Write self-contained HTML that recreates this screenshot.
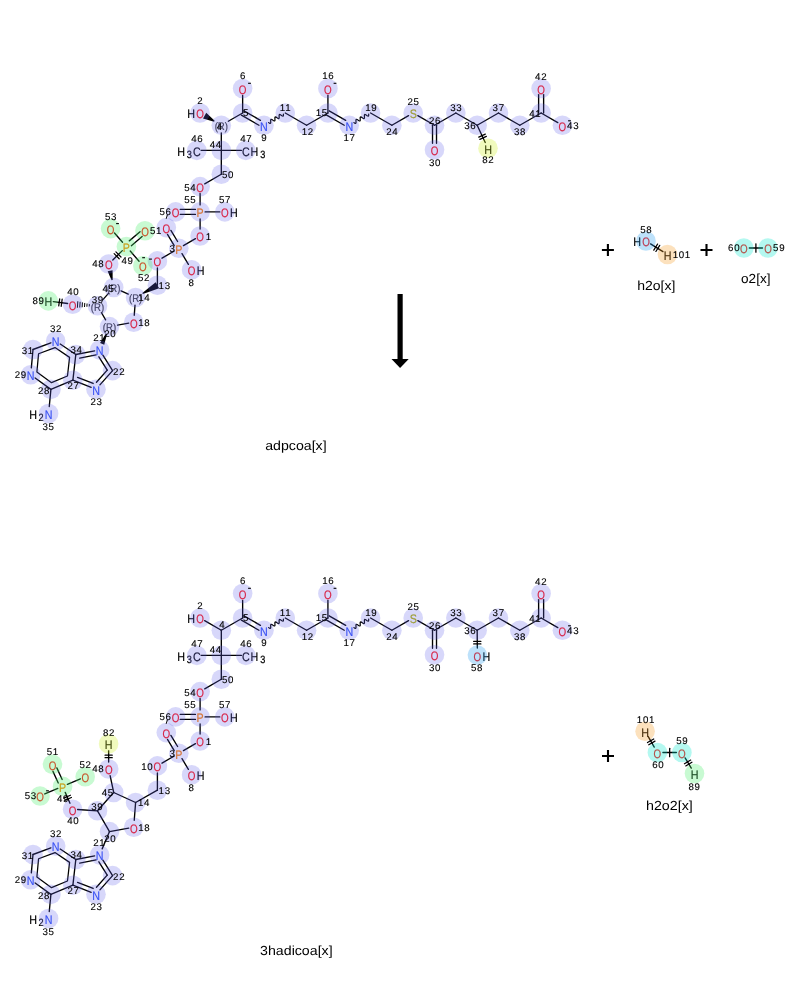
<!DOCTYPE html>
<html><head><meta charset="utf-8"><style>html,body{margin:0;padding:0;background:#fff;width:800px;height:1000px;overflow:hidden}svg{display:block}</style></head>
<body><svg style="will-change:transform" text-rendering="geometricPrecision" width="800" height="1000" viewBox="0 0 800 1000">
<rect width="800" height="1000" fill="#fff"/>
<g stroke="#000" stroke-linecap="round"><polygon points="214.65,120.73 214.05,121.77 203.01,118.48 206.24,112.84" stroke="none" fill="#000"/><line x1="228.29" y1="121.25" x2="242.64" y2="113" stroke-width="1.35"/><line x1="242.64" y1="113" x2="242.64" y2="95.5" stroke-width="1.35"/><line x1="243.89" y1="110.83" x2="260.41" y2="120.33" stroke-width="1.35"/><line x1="241.39" y1="115.17" x2="258.96" y2="125.26" stroke-width="1.35"/><polyline points="268.59,122.59 269.25,123.03 269.83,123.34 270.29,123.42 270.59,123.22 270.73,122.75 270.74,122.06 270.69,121.26 270.65,120.48 270.7,119.85 270.88,119.45 271.22,119.33 271.72,119.49 272.33,119.85 273,120.3 273.65,120.71 274.2,120.96 274.62,120.97 274.87,120.69 274.96,120.14 274.95,119.41 274.9,118.6 274.88,117.85 274.96,117.28 275.18,116.96 275.57,116.92 276.11,117.15 276.75,117.54 277.42,118 278.04,118.37 278.56,118.56 278.93,118.49 279.13,118.13 279.19,117.52 279.16,116.76 279.11,115.95 279.11,115.24 279.23,114.73 279.5,114.49 279.94,114.54 280.51,114.82 281.16,115.24 281.83,115.69 282.43,116.02 282.91,116.14 283.23,115.99 283.39,115.55 283.42,114.89 283.37,114.1" fill="none" stroke-width="1.2"/><line x1="285.28" y1="113" x2="306.6" y2="125.25" stroke-width="1.35"/><line x1="306.6" y1="125.25" x2="327.92" y2="113" stroke-width="1.35"/><line x1="327.92" y1="113" x2="327.92" y2="95.5" stroke-width="1.35"/><line x1="329.17" y1="110.83" x2="345.69" y2="120.33" stroke-width="1.35"/><line x1="326.67" y1="115.17" x2="344.24" y2="125.26" stroke-width="1.35"/><polyline points="353.87,122.59 354.53,123.03 355.11,123.34 355.57,123.42 355.87,123.22 356.01,122.75 356.02,122.06 355.97,121.26 355.93,120.48 355.98,119.85 356.16,119.45 356.5,119.33 357,119.49 357.61,119.85 358.28,120.3 358.93,120.71 359.48,120.96 359.9,120.97 360.15,120.69 360.24,120.14 360.23,119.41 360.18,118.6 360.16,117.85 360.24,117.28 360.46,116.96 360.85,116.92 361.39,117.15 362.03,117.54 362.7,118 363.32,118.37 363.84,118.56 364.21,118.49 364.41,118.13 364.47,117.52 364.44,116.76 364.39,115.95 364.39,115.24 364.51,114.73 364.78,114.49 365.22,114.54 365.79,114.82 366.44,115.24 367.11,115.69 367.71,116.02 368.19,116.14 368.51,115.99 368.67,115.55 368.7,114.89 368.65,114.1" fill="none" stroke-width="1.2"/><line x1="370.56" y1="113" x2="391.88" y2="125.25" stroke-width="1.35"/><line x1="391.88" y1="125.25" x2="408.57" y2="115.66" stroke-width="1.35"/><line x1="417.83" y1="115.66" x2="434.52" y2="125.25" stroke-width="1.35"/><line x1="436.52" y1="125.25" x2="436.52" y2="143.33" stroke-width="1.35"/><line x1="432.52" y1="125.25" x2="432.52" y2="143.33" stroke-width="1.35"/><line x1="434.52" y1="125.25" x2="455.84" y2="113" stroke-width="1.35"/><line x1="455.84" y1="113" x2="477.16" y2="125.25" stroke-width="1.35"/><line x1="477.16" y1="125.25" x2="498.48" y2="113" stroke-width="1.35"/><line x1="498.48" y1="113" x2="519.8" y2="125.25" stroke-width="1.35"/><line x1="519.8" y1="125.25" x2="541.12" y2="113" stroke-width="1.35"/><line x1="538.62" y1="113" x2="538.62" y2="94.56" stroke-width="1.35"/><line x1="543.62" y1="113" x2="543.62" y2="94.56" stroke-width="1.35"/><line x1="541.12" y1="113" x2="557.81" y2="122.59" stroke-width="1.35"/><line x1="221.32" y1="132.85" x2="221.32" y2="150.4" stroke-width="1.35"/><line x1="221.32" y1="150.4" x2="201.2" y2="150.4" stroke-width="1.35"/><line x1="221.32" y1="150.4" x2="241.4" y2="150.4" stroke-width="1.35"/><line x1="221.32" y1="150.4" x2="221.32" y2="174.25" stroke-width="1.35"/><line x1="221.32" y1="174.25" x2="204.72" y2="183.91" stroke-width="1.35"/><line x1="200.1" y1="193.6" x2="200.1" y2="204.9" stroke-width="1.35"/><line x1="195.43" y1="214.4" x2="180.27" y2="214.4" stroke-width="1.35"/><line x1="195.43" y1="209.4" x2="180.27" y2="209.4" stroke-width="1.35"/><line x1="205.1" y1="211.9" x2="219.8" y2="211.9" stroke-width="1.35"/><line x1="200.1" y1="218.9" x2="200.1" y2="229" stroke-width="1.35"/><line x1="195.48" y1="238.67" x2="183.42" y2="245.63" stroke-width="1.35"/><line x1="174.21" y1="245.53" x2="167.49" y2="234.4" stroke-width="1.35"/><line x1="177.61" y1="241.5" x2="170.89" y2="230.37" stroke-width="1.35"/><line x1="182.01" y1="253.67" x2="188.39" y2="264.33" stroke-width="1.35"/><line x1="174.19" y1="251.01" x2="162.01" y2="258.19" stroke-width="1.35"/><line x1="157.4" y1="267.9" x2="157.4" y2="285.2" stroke-width="1.35"/><polygon points="142.9,294.07 142.31,293.03 155.68,282.15 159.12,288.25" stroke="none" fill="#000"/><polygon points="112.7,279.92 111.53,280.17 107.68,271.23 112.57,270.19" stroke="none" fill="#000"/><line x1="89.27" y1="306.07" x2="89.37" y2="304.48" stroke-width="1"/><line x1="86.9" y1="306.34" x2="87.05" y2="303.91" stroke-width="1"/><line x1="84.52" y1="306.61" x2="84.73" y2="303.34" stroke-width="1"/><line x1="82.15" y1="306.88" x2="82.42" y2="302.77" stroke-width="1"/><line x1="79.78" y1="307.15" x2="80.1" y2="302.2" stroke-width="1"/><line x1="77.41" y1="307.41" x2="77.78" y2="301.63" stroke-width="1"/><polygon points="105.94,333.44 107.05,333.91 104.23,344.76 100.09,343" stroke="none" fill="#000"/><line x1="128.24" y1="294.14" x2="121.06" y2="290.86" stroke-width="1.35"/><line x1="108.5" y1="293.38" x2="102.7" y2="299.92" stroke-width="1.35"/><line x1="101.37" y1="312.5" x2="105.63" y2="319.9" stroke-width="1.35"/><line x1="117.55" y1="325.14" x2="128.74" y2="323.1" stroke-width="1.35"/><line x1="134.24" y1="315.24" x2="135.02" y2="305.08" stroke-width="1.35"/><line x1="50.87" y1="342.81" x2="33" y2="349.5" stroke-width="1.35"/><line x1="33" y1="349.5" x2="31.33" y2="367.86" stroke-width="1.35"/><line x1="35.14" y1="378.01" x2="50.9" y2="389.4" stroke-width="1.35"/><line x1="50.9" y1="389.4" x2="72.9" y2="380.2" stroke-width="1.35"/><line x1="72.9" y1="380.2" x2="75.8" y2="354.5" stroke-width="1.35"/><line x1="75.8" y1="354.5" x2="60.21" y2="344.03" stroke-width="1.35"/><line x1="75.8" y1="354.5" x2="94.65" y2="350.86" stroke-width="1.35"/><line x1="102.9" y1="355.16" x2="112.6" y2="370.6" stroke-width="1.35"/><line x1="112.6" y1="370.6" x2="99.9" y2="384.83" stroke-width="1.35"/><line x1="91.18" y1="387.32" x2="72.9" y2="380.2" stroke-width="1.35"/><polygon points="55,347.57 38.55,353.74 36.88,372.08 51.52,382.66 67.47,375.99 69.58,357.36" fill="none" stroke-width="1.25" stroke-linejoin="round"/><line x1="79.72" y1="358.12" x2="96.14" y2="354.95" stroke-width="1.35"/><line x1="98.87" y1="356.83" x2="107.24" y2="370.15" stroke-width="1.35"/><line x1="107.24" y1="370.15" x2="96.46" y2="382.23" stroke-width="1.35"/><line x1="93.13" y1="383.47" x2="77.54" y2="377.39" stroke-width="1.35"/><line x1="50.9" y1="389.4" x2="49.26" y2="406.56" stroke-width="1.35"/><line x1="53.28" y1="301.58" x2="67.62" y2="303.52" stroke-width="1.35"/><line x1="59.7" y1="298.81" x2="58.73" y2="305.95" stroke-width="1.25"/><line x1="62.17" y1="299.15" x2="61.2" y2="306.29" stroke-width="1.25"/><line x1="122.31" y1="250.62" x2="112.79" y2="259.98" stroke-width="1.35"/><line x1="120.97" y1="256.99" x2="115.92" y2="251.86" stroke-width="1.25"/><line x1="119.18" y1="258.74" x2="114.13" y2="253.61" stroke-width="1.25"/><line x1="129.28" y1="240.88" x2="140.04" y2="231.73" stroke-width="1.35"/><line x1="131.36" y1="245.67" x2="142.12" y2="236.52" stroke-width="1.35"/><line x1="130.25" y1="251.06" x2="139.05" y2="261.24" stroke-width="1.35"/><line x1="122.52" y1="242.18" x2="114.48" y2="233.02" stroke-width="1.35"/><line x1="477.16" y1="125.25" x2="485.25" y2="142.45" stroke-width="1.35"/><line x1="485.31" y1="134.11" x2="478.79" y2="137.18" stroke-width="1.25"/><line x1="486.37" y1="136.37" x2="479.85" y2="139.44" stroke-width="1.25"/><line x1="221.32" y1="630.25" x2="204.63" y2="620.66" stroke-width="1.35"/><line x1="221.32" y1="630.25" x2="242.64" y2="618" stroke-width="1.35"/><line x1="242.64" y1="618" x2="242.64" y2="600.5" stroke-width="1.35"/><line x1="243.89" y1="615.83" x2="260.41" y2="625.33" stroke-width="1.35"/><line x1="241.39" y1="620.17" x2="258.96" y2="630.26" stroke-width="1.35"/><polyline points="268.59,627.59 269.25,628.03 269.83,628.34 270.29,628.42 270.59,628.22 270.73,627.75 270.74,627.06 270.69,626.26 270.65,625.48 270.7,624.85 270.88,624.45 271.22,624.33 271.72,624.49 272.33,624.85 273,625.3 273.65,625.71 274.2,625.96 274.62,625.97 274.87,625.69 274.96,625.14 274.95,624.41 274.9,623.6 274.88,622.85 274.96,622.28 275.18,621.96 275.57,621.92 276.11,622.15 276.75,622.54 277.42,623 278.04,623.37 278.56,623.56 278.93,623.49 279.13,623.13 279.19,622.52 279.16,621.76 279.11,620.95 279.11,620.24 279.23,619.73 279.5,619.49 279.94,619.54 280.51,619.82 281.16,620.24 281.83,620.69 282.43,621.02 282.91,621.14 283.23,620.99 283.39,620.55 283.42,619.89 283.37,619.1" fill="none" stroke-width="1.2"/><line x1="285.28" y1="618" x2="306.6" y2="630.25" stroke-width="1.35"/><line x1="306.6" y1="630.25" x2="327.92" y2="618" stroke-width="1.35"/><line x1="327.92" y1="618" x2="327.92" y2="600.5" stroke-width="1.35"/><line x1="329.17" y1="615.83" x2="345.69" y2="625.33" stroke-width="1.35"/><line x1="326.67" y1="620.17" x2="344.24" y2="630.26" stroke-width="1.35"/><polyline points="353.87,627.59 354.53,628.03 355.11,628.34 355.57,628.42 355.87,628.22 356.01,627.75 356.02,627.06 355.97,626.26 355.93,625.48 355.98,624.85 356.16,624.45 356.5,624.33 357,624.49 357.61,624.85 358.28,625.3 358.93,625.71 359.48,625.96 359.9,625.97 360.15,625.69 360.24,625.14 360.23,624.41 360.18,623.6 360.16,622.85 360.24,622.28 360.46,621.96 360.85,621.92 361.39,622.15 362.03,622.54 362.7,623 363.32,623.37 363.84,623.56 364.21,623.49 364.41,623.13 364.47,622.52 364.44,621.76 364.39,620.95 364.39,620.24 364.51,619.73 364.78,619.49 365.22,619.54 365.79,619.82 366.44,620.24 367.11,620.69 367.71,621.02 368.19,621.14 368.51,620.99 368.67,620.55 368.7,619.89 368.65,619.1" fill="none" stroke-width="1.2"/><line x1="370.56" y1="618" x2="391.88" y2="630.25" stroke-width="1.35"/><line x1="391.88" y1="630.25" x2="408.57" y2="620.66" stroke-width="1.35"/><line x1="417.83" y1="620.66" x2="434.52" y2="630.25" stroke-width="1.35"/><line x1="436.52" y1="630.25" x2="436.52" y2="648.33" stroke-width="1.35"/><line x1="432.52" y1="630.25" x2="432.52" y2="648.33" stroke-width="1.35"/><line x1="434.52" y1="630.25" x2="455.84" y2="618" stroke-width="1.35"/><line x1="455.84" y1="618" x2="477.16" y2="630.25" stroke-width="1.35"/><line x1="477.16" y1="630.25" x2="498.48" y2="618" stroke-width="1.35"/><line x1="498.48" y1="618" x2="519.8" y2="630.25" stroke-width="1.35"/><line x1="519.8" y1="630.25" x2="541.12" y2="618" stroke-width="1.35"/><line x1="538.62" y1="618" x2="538.62" y2="599.56" stroke-width="1.35"/><line x1="543.62" y1="618" x2="543.62" y2="599.56" stroke-width="1.35"/><line x1="541.12" y1="618" x2="557.81" y2="627.59" stroke-width="1.35"/><line x1="221.32" y1="630.25" x2="221.32" y2="655.4" stroke-width="1.35"/><line x1="221.32" y1="655.4" x2="201.2" y2="655.4" stroke-width="1.35"/><line x1="221.32" y1="655.4" x2="241.4" y2="655.4" stroke-width="1.35"/><line x1="221.32" y1="655.4" x2="221.32" y2="679.25" stroke-width="1.35"/><line x1="221.32" y1="679.25" x2="204.72" y2="688.91" stroke-width="1.35"/><line x1="200.1" y1="698.6" x2="200.1" y2="709.9" stroke-width="1.35"/><line x1="195.43" y1="719.4" x2="180.27" y2="719.4" stroke-width="1.35"/><line x1="195.43" y1="714.4" x2="180.27" y2="714.4" stroke-width="1.35"/><line x1="205.1" y1="716.9" x2="219.8" y2="716.9" stroke-width="1.35"/><line x1="200.1" y1="723.9" x2="200.1" y2="734" stroke-width="1.35"/><line x1="195.48" y1="743.67" x2="183.42" y2="750.63" stroke-width="1.35"/><line x1="174.21" y1="750.53" x2="167.49" y2="739.4" stroke-width="1.35"/><line x1="177.61" y1="746.5" x2="170.89" y2="735.37" stroke-width="1.35"/><line x1="182.01" y1="758.67" x2="188.39" y2="769.33" stroke-width="1.35"/><line x1="174.19" y1="756.01" x2="162.01" y2="763.19" stroke-width="1.35"/><line x1="157.4" y1="772.9" x2="157.4" y2="790.2" stroke-width="1.35"/><line x1="135.6" y1="802.5" x2="157.4" y2="790.2" stroke-width="1.35"/><line x1="113.7" y1="792.5" x2="110.13" y2="775.71" stroke-width="1.35"/><line x1="97.5" y1="810.8" x2="77.59" y2="809.52" stroke-width="1.35"/><line x1="109.5" y1="831.6" x2="102.16" y2="848.88" stroke-width="1.35"/><line x1="135.6" y1="802.5" x2="113.7" y2="792.5" stroke-width="1.35"/><line x1="113.7" y1="792.5" x2="97.5" y2="810.8" stroke-width="1.35"/><line x1="97.5" y1="810.8" x2="109.5" y2="831.6" stroke-width="1.35"/><line x1="109.5" y1="831.6" x2="128.74" y2="828.1" stroke-width="1.35"/><line x1="134.24" y1="820.24" x2="135.6" y2="802.5" stroke-width="1.35"/><line x1="50.87" y1="847.81" x2="33" y2="854.5" stroke-width="1.35"/><line x1="33" y1="854.5" x2="31.33" y2="872.86" stroke-width="1.35"/><line x1="35.14" y1="883.01" x2="50.9" y2="894.4" stroke-width="1.35"/><line x1="50.9" y1="894.4" x2="72.9" y2="885.2" stroke-width="1.35"/><line x1="72.9" y1="885.2" x2="75.8" y2="859.5" stroke-width="1.35"/><line x1="75.8" y1="859.5" x2="60.21" y2="849.03" stroke-width="1.35"/><line x1="75.8" y1="859.5" x2="94.65" y2="855.86" stroke-width="1.35"/><line x1="102.9" y1="860.16" x2="112.6" y2="875.6" stroke-width="1.35"/><line x1="112.6" y1="875.6" x2="99.9" y2="889.83" stroke-width="1.35"/><line x1="91.18" y1="892.32" x2="72.9" y2="885.2" stroke-width="1.35"/><polygon points="55,852.57 38.55,858.74 36.88,877.08 51.52,887.66 67.47,880.99 69.58,862.36" fill="none" stroke-width="1.25" stroke-linejoin="round"/><line x1="79.72" y1="863.12" x2="96.14" y2="859.95" stroke-width="1.35"/><line x1="98.87" y1="861.83" x2="107.24" y2="875.15" stroke-width="1.35"/><line x1="107.24" y1="875.15" x2="96.46" y2="887.23" stroke-width="1.35"/><line x1="93.13" y1="888.47" x2="77.54" y2="882.39" stroke-width="1.35"/><line x1="50.9" y1="894.4" x2="49.26" y2="911.56" stroke-width="1.35"/><line x1="108.63" y1="750.8" x2="108.67" y2="762" stroke-width="1.35"/><line x1="112.25" y1="755.14" x2="105.05" y2="755.16" stroke-width="1.25"/><line x1="112.25" y1="757.64" x2="105.05" y2="757.66" stroke-width="1.25"/><line x1="65.22" y1="792.37" x2="69.98" y2="803.23" stroke-width="1.35"/><line x1="70.39" y1="795.21" x2="63.8" y2="798.1" stroke-width="1.25"/><line x1="71.4" y1="797.5" x2="64.81" y2="800.39" stroke-width="1.25"/><line x1="58.26" y1="782.93" x2="52.95" y2="771.37" stroke-width="1.35"/><line x1="62.15" y1="779.43" x2="56.84" y2="767.87" stroke-width="1.35"/><line x1="67.38" y1="784.37" x2="80.42" y2="778.83" stroke-width="1.35"/><line x1="57.82" y1="788.43" x2="44.78" y2="793.97" stroke-width="1.35"/><line x1="477.16" y1="630.25" x2="477.33" y2="648.1" stroke-width="1.35"/><line x1="480.87" y1="641.39" x2="473.67" y2="641.46" stroke-width="1.25"/><line x1="480.89" y1="643.89" x2="473.69" y2="643.96" stroke-width="1.25"/><line x1="650.56" y1="243.86" x2="662.94" y2="251.64" stroke-width="1.35"/><line x1="657.61" y1="244.04" x2="653.78" y2="250.13" stroke-width="1.25"/><line x1="659.72" y1="245.37" x2="655.89" y2="251.46" stroke-width="1.25"/><line x1="749.3" y1="248" x2="762.5" y2="248" stroke-width="1.35"/><line x1="755.9" y1="243.8" x2="755.9" y2="252.2" stroke-width="1.3"/><line x1="648.24" y1="736.64" x2="654.26" y2="747.06" stroke-width="1.35"/><line x1="653.74" y1="738.97" x2="647.51" y2="742.57" stroke-width="1.25"/><line x1="654.99" y1="741.13" x2="648.76" y2="744.73" stroke-width="1.25"/><line x1="662.9" y1="752.5" x2="676.4" y2="752.5" stroke-width="1.35"/><line x1="669.65" y1="748.3" x2="669.65" y2="756.7" stroke-width="1.3"/><line x1="685.12" y1="757.86" x2="691.28" y2="768.14" stroke-width="1.35"/><line x1="690.64" y1="760.08" x2="684.47" y2="763.78" stroke-width="1.25"/><line x1="691.93" y1="762.22" x2="685.76" y2="765.92" stroke-width="1.25"/></g>
<g font-family='"Liberation Sans", sans-serif' stroke-width="0.2"><text transform="translate(200 118.43) scale(0.8 1)" font-size="12.3" fill="#ff0d0d" stroke="#ff0d0d" text-anchor="middle">O</text><text transform="translate(191.2 118.43) scale(0.87 1)" font-size="12.3" fill="#000" stroke="#000" text-anchor="middle">H</text><text transform="translate(221.32 130.03) scale(0.87 1)" font-size="11" fill="#3a3a3a" stroke="#3a3a3a" text-anchor="middle">(R)</text><text transform="translate(263.96 130.68) scale(0.87 1)" font-size="12.3" fill="#3050f8" stroke="#3050f8" text-anchor="middle">N</text><text transform="translate(349.24 130.68) scale(0.87 1)" font-size="12.3" fill="#3050f8" stroke="#3050f8" text-anchor="middle">N</text><text transform="translate(413.2 118.43) scale(0.87 1)" font-size="12.3" fill="#b4b400" stroke="#b4b400" text-anchor="middle">S</text><text transform="translate(562.44 130.68) scale(0.8 1)" font-size="12.3" fill="#ff0d0d" stroke="#ff0d0d" text-anchor="middle">O</text><text transform="translate(242.64 93.93) scale(0.8 1)" font-size="12.3" fill="#ff0d0d" stroke="#ff0d0d" text-anchor="middle">O</text><text transform="translate(327.92 93.93) scale(0.8 1)" font-size="12.3" fill="#ff0d0d" stroke="#ff0d0d" text-anchor="middle">O</text><text transform="translate(434.52 155.18) scale(0.8 1)" font-size="12.3" fill="#ff0d0d" stroke="#ff0d0d" text-anchor="middle">O</text><text transform="translate(541.12 93.93) scale(0.8 1)" font-size="12.3" fill="#ff0d0d" stroke="#ff0d0d" text-anchor="middle">O</text><text transform="translate(196.8 155.83) scale(0.87 1)" font-size="12.3" fill="#000" stroke="#000" text-anchor="middle">C</text><text transform="translate(189.2 157.73) scale(0.87 1)" font-size="10.5" fill="#000" stroke="#000" text-anchor="middle">3</text><text transform="translate(181.2 155.83) scale(0.87 1)" font-size="12.3" fill="#000" stroke="#000" text-anchor="middle">H</text><text transform="translate(245.8 155.83) scale(0.87 1)" font-size="12.3" fill="#000" stroke="#000" text-anchor="middle">C</text><text transform="translate(254.4 155.83) scale(0.87 1)" font-size="12.3" fill="#000" stroke="#000" text-anchor="middle">H</text><text transform="translate(262.7 157.73) scale(0.87 1)" font-size="10.5" fill="#000" stroke="#000" text-anchor="middle">3</text><text transform="translate(200.1 192.03) scale(0.8 1)" font-size="12.3" fill="#ff0d0d" stroke="#ff0d0d" text-anchor="middle">O</text><text transform="translate(200.1 217.33) scale(0.87 1)" font-size="12.3" fill="#ff8000" stroke="#ff8000" text-anchor="middle">P</text><text transform="translate(175.6 217.33) scale(0.8 1)" font-size="12.3" fill="#ff0d0d" stroke="#ff0d0d" text-anchor="middle">O</text><text transform="translate(224.8 217.33) scale(0.8 1)" font-size="12.3" fill="#ff0d0d" stroke="#ff0d0d" text-anchor="middle">O</text><text transform="translate(233.8 217.33) scale(0.87 1)" font-size="12.3" fill="#000" stroke="#000" text-anchor="middle">H</text><text transform="translate(200.1 241.43) scale(0.8 1)" font-size="12.3" fill="#ff0d0d" stroke="#ff0d0d" text-anchor="middle">O</text><text transform="translate(178.8 253.73) scale(0.87 1)" font-size="12.3" fill="#ff8000" stroke="#ff8000" text-anchor="middle">P</text><text transform="translate(166.3 233.03) scale(0.8 1)" font-size="12.3" fill="#ff0d0d" stroke="#ff0d0d" text-anchor="middle">O</text><text transform="translate(191.6 275.13) scale(0.8 1)" font-size="12.3" fill="#ff0d0d" stroke="#ff0d0d" text-anchor="middle">O</text><text transform="translate(200.6 275.13) scale(0.87 1)" font-size="12.3" fill="#000" stroke="#000" text-anchor="middle">H</text><text transform="translate(157.4 266.33) scale(0.8 1)" font-size="12.3" fill="#ff0d0d" stroke="#ff0d0d" text-anchor="middle">O</text><text transform="translate(135.6 302.28) scale(0.87 1)" font-size="11" fill="#3a3a3a" stroke="#3a3a3a" text-anchor="middle">(R)</text><text transform="translate(133.7 327.63) scale(0.8 1)" font-size="12.3" fill="#ff0d0d" stroke="#ff0d0d" text-anchor="middle">O</text><text transform="translate(109.5 331.38) scale(0.87 1)" font-size="11" fill="#3a3a3a" stroke="#3a3a3a" text-anchor="middle">(R)</text><text transform="translate(97.5 310.58) scale(0.87 1)" font-size="11" fill="#3a3a3a" stroke="#3a3a3a" text-anchor="middle">(R)</text><text transform="translate(113.7 292.28) scale(0.87 1)" font-size="11" fill="#3a3a3a" stroke="#3a3a3a" text-anchor="middle">(R)</text><text transform="translate(108.7 269.43) scale(0.8 1)" font-size="12.3" fill="#ff0d0d" stroke="#ff0d0d" text-anchor="middle">O</text><text transform="translate(72.6 309.63) scale(0.8 1)" font-size="12.3" fill="#ff0d0d" stroke="#ff0d0d" text-anchor="middle">O</text><text transform="translate(99.6 355.33) scale(0.87 1)" font-size="12.3" fill="#3050f8" stroke="#3050f8" text-anchor="middle">N</text><text transform="translate(96 394.63) scale(0.87 1)" font-size="12.3" fill="#3050f8" stroke="#3050f8" text-anchor="middle">N</text><text transform="translate(30.7 380.23) scale(0.87 1)" font-size="12.3" fill="#3050f8" stroke="#3050f8" text-anchor="middle">N</text><text transform="translate(55.7 346.43) scale(0.87 1)" font-size="12.3" fill="#3050f8" stroke="#3050f8" text-anchor="middle">N</text><text transform="translate(48.6 418.93) scale(0.87 1)" font-size="12.3" fill="#3050f8" stroke="#3050f8" text-anchor="middle">N</text><text transform="translate(41 420.83) scale(0.87 1)" font-size="10.5" fill="#000" stroke="#000" text-anchor="middle">2</text><text transform="translate(33 418.93) scale(0.87 1)" font-size="12.3" fill="#000" stroke="#000" text-anchor="middle">H</text><text transform="translate(48.3 306.33) scale(0.87 1)" font-size="12.3" fill="#000000" stroke="#000000" text-anchor="middle">H</text><text transform="translate(126.4 252.03) scale(0.87 1)" font-size="12.3" fill="#ff8000" stroke="#ff8000" text-anchor="middle">P</text><text transform="translate(145 236.23) scale(0.8 1)" font-size="12.3" fill="#ff0d0d" stroke="#ff0d0d" text-anchor="middle">O</text><text transform="translate(142.9 271.13) scale(0.8 1)" font-size="12.3" fill="#ff0d0d" stroke="#ff0d0d" text-anchor="middle">O</text><text transform="translate(110.6 234.03) scale(0.8 1)" font-size="12.3" fill="#ff0d0d" stroke="#ff0d0d" text-anchor="middle">O</text><text transform="translate(488 153.73) scale(0.87 1)" font-size="12.3" fill="#000000" stroke="#000000" text-anchor="middle">H</text><text transform="translate(200 623.43) scale(0.8 1)" font-size="12.3" fill="#ff0d0d" stroke="#ff0d0d" text-anchor="middle">O</text><text transform="translate(191.2 623.43) scale(0.87 1)" font-size="12.3" fill="#000" stroke="#000" text-anchor="middle">H</text><text transform="translate(263.96 635.68) scale(0.87 1)" font-size="12.3" fill="#3050f8" stroke="#3050f8" text-anchor="middle">N</text><text transform="translate(349.24 635.68) scale(0.87 1)" font-size="12.3" fill="#3050f8" stroke="#3050f8" text-anchor="middle">N</text><text transform="translate(413.2 623.43) scale(0.87 1)" font-size="12.3" fill="#b4b400" stroke="#b4b400" text-anchor="middle">S</text><text transform="translate(562.44 635.68) scale(0.8 1)" font-size="12.3" fill="#ff0d0d" stroke="#ff0d0d" text-anchor="middle">O</text><text transform="translate(242.64 598.93) scale(0.8 1)" font-size="12.3" fill="#ff0d0d" stroke="#ff0d0d" text-anchor="middle">O</text><text transform="translate(327.92 598.93) scale(0.8 1)" font-size="12.3" fill="#ff0d0d" stroke="#ff0d0d" text-anchor="middle">O</text><text transform="translate(434.52 660.18) scale(0.8 1)" font-size="12.3" fill="#ff0d0d" stroke="#ff0d0d" text-anchor="middle">O</text><text transform="translate(541.12 598.93) scale(0.8 1)" font-size="12.3" fill="#ff0d0d" stroke="#ff0d0d" text-anchor="middle">O</text><text transform="translate(196.8 660.83) scale(0.87 1)" font-size="12.3" fill="#000" stroke="#000" text-anchor="middle">C</text><text transform="translate(189.2 662.73) scale(0.87 1)" font-size="10.5" fill="#000" stroke="#000" text-anchor="middle">3</text><text transform="translate(181.2 660.83) scale(0.87 1)" font-size="12.3" fill="#000" stroke="#000" text-anchor="middle">H</text><text transform="translate(245.8 660.83) scale(0.87 1)" font-size="12.3" fill="#000" stroke="#000" text-anchor="middle">C</text><text transform="translate(254.4 660.83) scale(0.87 1)" font-size="12.3" fill="#000" stroke="#000" text-anchor="middle">H</text><text transform="translate(262.7 662.73) scale(0.87 1)" font-size="10.5" fill="#000" stroke="#000" text-anchor="middle">3</text><text transform="translate(200.1 697.03) scale(0.8 1)" font-size="12.3" fill="#ff0d0d" stroke="#ff0d0d" text-anchor="middle">O</text><text transform="translate(200.1 722.33) scale(0.87 1)" font-size="12.3" fill="#ff8000" stroke="#ff8000" text-anchor="middle">P</text><text transform="translate(175.6 722.33) scale(0.8 1)" font-size="12.3" fill="#ff0d0d" stroke="#ff0d0d" text-anchor="middle">O</text><text transform="translate(224.8 722.33) scale(0.8 1)" font-size="12.3" fill="#ff0d0d" stroke="#ff0d0d" text-anchor="middle">O</text><text transform="translate(233.8 722.33) scale(0.87 1)" font-size="12.3" fill="#000" stroke="#000" text-anchor="middle">H</text><text transform="translate(200.1 746.43) scale(0.8 1)" font-size="12.3" fill="#ff0d0d" stroke="#ff0d0d" text-anchor="middle">O</text><text transform="translate(178.8 758.73) scale(0.87 1)" font-size="12.3" fill="#ff8000" stroke="#ff8000" text-anchor="middle">P</text><text transform="translate(166.3 738.03) scale(0.8 1)" font-size="12.3" fill="#ff0d0d" stroke="#ff0d0d" text-anchor="middle">O</text><text transform="translate(191.6 780.13) scale(0.8 1)" font-size="12.3" fill="#ff0d0d" stroke="#ff0d0d" text-anchor="middle">O</text><text transform="translate(200.6 780.13) scale(0.87 1)" font-size="12.3" fill="#000" stroke="#000" text-anchor="middle">H</text><text transform="translate(157.4 771.33) scale(0.8 1)" font-size="12.3" fill="#ff0d0d" stroke="#ff0d0d" text-anchor="middle">O</text><text transform="translate(133.7 832.63) scale(0.8 1)" font-size="12.3" fill="#ff0d0d" stroke="#ff0d0d" text-anchor="middle">O</text><text transform="translate(108.7 774.43) scale(0.8 1)" font-size="12.3" fill="#ff0d0d" stroke="#ff0d0d" text-anchor="middle">O</text><text transform="translate(72.6 814.63) scale(0.8 1)" font-size="12.3" fill="#ff0d0d" stroke="#ff0d0d" text-anchor="middle">O</text><text transform="translate(99.6 860.33) scale(0.87 1)" font-size="12.3" fill="#3050f8" stroke="#3050f8" text-anchor="middle">N</text><text transform="translate(96 899.63) scale(0.87 1)" font-size="12.3" fill="#3050f8" stroke="#3050f8" text-anchor="middle">N</text><text transform="translate(30.7 885.23) scale(0.87 1)" font-size="12.3" fill="#3050f8" stroke="#3050f8" text-anchor="middle">N</text><text transform="translate(55.7 851.43) scale(0.87 1)" font-size="12.3" fill="#3050f8" stroke="#3050f8" text-anchor="middle">N</text><text transform="translate(48.6 923.93) scale(0.87 1)" font-size="12.3" fill="#3050f8" stroke="#3050f8" text-anchor="middle">N</text><text transform="translate(41 925.83) scale(0.87 1)" font-size="10.5" fill="#000" stroke="#000" text-anchor="middle">2</text><text transform="translate(33 923.93) scale(0.87 1)" font-size="12.3" fill="#000" stroke="#000" text-anchor="middle">H</text><text transform="translate(108.6 749.23) scale(0.87 1)" font-size="12.3" fill="#000000" stroke="#000000" text-anchor="middle">H</text><text transform="translate(62.6 791.83) scale(0.87 1)" font-size="12.3" fill="#ff8000" stroke="#ff8000" text-anchor="middle">P</text><text transform="translate(52.5 769.83) scale(0.8 1)" font-size="12.3" fill="#ff0d0d" stroke="#ff0d0d" text-anchor="middle">O</text><text transform="translate(85.2 782.23) scale(0.8 1)" font-size="12.3" fill="#ff0d0d" stroke="#ff0d0d" text-anchor="middle">O</text><text transform="translate(40 801.43) scale(0.8 1)" font-size="12.3" fill="#ff0d0d" stroke="#ff0d0d" text-anchor="middle">O</text><text transform="translate(477.4 660.53) scale(0.8 1)" font-size="12.3" fill="#ff0d0d" stroke="#ff0d0d" text-anchor="middle">O</text><text transform="translate(486.4 660.53) scale(0.87 1)" font-size="12.3" fill="#000" stroke="#000" text-anchor="middle">H</text><text transform="translate(646 246.43) scale(0.8 1)" font-size="12.3" fill="#ff0d0d" stroke="#ff0d0d" text-anchor="middle">O</text><text transform="translate(637.2 246.43) scale(0.87 1)" font-size="12.3" fill="#000" stroke="#000" text-anchor="middle">H</text><text transform="translate(667.5 259.93) scale(0.87 1)" font-size="12.3" fill="#000000" stroke="#000000" text-anchor="middle">H</text><text transform="translate(743.8 253.43) scale(0.8 1)" font-size="12.3" fill="#ff0d0d" stroke="#ff0d0d" text-anchor="middle">O</text><text transform="translate(768 253.43) scale(0.8 1)" font-size="12.3" fill="#ff0d0d" stroke="#ff0d0d" text-anchor="middle">O</text><text transform="translate(645.1 736.63) scale(0.87 1)" font-size="12.3" fill="#000000" stroke="#000000" text-anchor="middle">H</text><text transform="translate(657.4 757.93) scale(0.8 1)" font-size="12.3" fill="#ff0d0d" stroke="#ff0d0d" text-anchor="middle">O</text><text transform="translate(681.9 757.93) scale(0.8 1)" font-size="12.3" fill="#ff0d0d" stroke="#ff0d0d" text-anchor="middle">O</text><text transform="translate(694.5 778.93) scale(0.87 1)" font-size="12.3" fill="#000000" stroke="#000000" text-anchor="middle">H</text></g>
<g><circle cx="200" cy="113" r="9.8" fill="rgb(95,95,235)" fill-opacity="0.25"/><circle cx="221.32" cy="125.25" r="9.8" fill="rgb(95,95,235)" fill-opacity="0.25"/><circle cx="242.64" cy="113" r="9.8" fill="rgb(95,95,235)" fill-opacity="0.25"/><circle cx="242.64" cy="88.5" r="9.8" fill="rgb(95,95,235)" fill-opacity="0.25"/><circle cx="263.96" cy="125.25" r="9.8" fill="rgb(95,95,235)" fill-opacity="0.25"/><circle cx="285.28" cy="113" r="9.8" fill="rgb(95,95,235)" fill-opacity="0.25"/><circle cx="306.6" cy="125.25" r="9.8" fill="rgb(95,95,235)" fill-opacity="0.25"/><circle cx="327.92" cy="113" r="9.8" fill="rgb(95,95,235)" fill-opacity="0.25"/><circle cx="327.92" cy="88.5" r="9.8" fill="rgb(95,95,235)" fill-opacity="0.25"/><circle cx="349.24" cy="125.25" r="9.8" fill="rgb(95,95,235)" fill-opacity="0.25"/><circle cx="370.56" cy="113" r="9.8" fill="rgb(95,95,235)" fill-opacity="0.25"/><circle cx="391.88" cy="125.25" r="9.8" fill="rgb(95,95,235)" fill-opacity="0.25"/><circle cx="413.2" cy="113" r="9.8" fill="rgb(95,95,235)" fill-opacity="0.25"/><circle cx="434.52" cy="125.25" r="9.8" fill="rgb(95,95,235)" fill-opacity="0.25"/><circle cx="434.52" cy="149.75" r="9.8" fill="rgb(95,95,235)" fill-opacity="0.25"/><circle cx="455.84" cy="113" r="9.8" fill="rgb(95,95,235)" fill-opacity="0.25"/><circle cx="477.16" cy="125.25" r="9.8" fill="rgb(95,95,235)" fill-opacity="0.25"/><circle cx="498.48" cy="113" r="9.8" fill="rgb(95,95,235)" fill-opacity="0.25"/><circle cx="519.8" cy="125.25" r="9.8" fill="rgb(95,95,235)" fill-opacity="0.25"/><circle cx="541.12" cy="113" r="9.8" fill="rgb(95,95,235)" fill-opacity="0.25"/><circle cx="541.12" cy="88.5" r="9.8" fill="rgb(95,95,235)" fill-opacity="0.25"/><circle cx="562.44" cy="125.25" r="9.8" fill="rgb(95,95,235)" fill-opacity="0.25"/><circle cx="221.32" cy="150.4" r="9.8" fill="rgb(95,95,235)" fill-opacity="0.25"/><circle cx="196.8" cy="150.4" r="9.8" fill="rgb(95,95,235)" fill-opacity="0.25"/><circle cx="245.8" cy="150.4" r="9.8" fill="rgb(95,95,235)" fill-opacity="0.25"/><circle cx="221.32" cy="174.25" r="9.8" fill="rgb(95,95,235)" fill-opacity="0.25"/><circle cx="200.1" cy="186.6" r="9.8" fill="rgb(95,95,235)" fill-opacity="0.25"/><circle cx="200.1" cy="211.9" r="9.8" fill="rgb(95,95,235)" fill-opacity="0.25"/><circle cx="175.6" cy="211.9" r="9.8" fill="rgb(95,95,235)" fill-opacity="0.25"/><circle cx="224.8" cy="211.9" r="9.8" fill="rgb(95,95,235)" fill-opacity="0.25"/><circle cx="200.1" cy="236" r="9.8" fill="rgb(95,95,235)" fill-opacity="0.25"/><circle cx="178.8" cy="248.3" r="9.8" fill="rgb(95,95,235)" fill-opacity="0.25"/><circle cx="166.3" cy="227.6" r="9.8" fill="rgb(95,95,235)" fill-opacity="0.25"/><circle cx="191.6" cy="269.7" r="9.8" fill="rgb(95,95,235)" fill-opacity="0.25"/><circle cx="157.4" cy="260.9" r="9.8" fill="rgb(95,95,235)" fill-opacity="0.25"/><circle cx="157.4" cy="285.2" r="9.8" fill="rgb(95,95,235)" fill-opacity="0.25"/><circle cx="135.6" cy="297.5" r="9.8" fill="rgb(95,95,235)" fill-opacity="0.25"/><circle cx="133.7" cy="322.2" r="9.8" fill="rgb(95,95,235)" fill-opacity="0.25"/><circle cx="109.5" cy="326.6" r="9.8" fill="rgb(95,95,235)" fill-opacity="0.25"/><circle cx="97.5" cy="305.8" r="9.8" fill="rgb(95,95,235)" fill-opacity="0.25"/><circle cx="113.7" cy="287.5" r="9.8" fill="rgb(95,95,235)" fill-opacity="0.25"/><circle cx="108.7" cy="264" r="9.8" fill="rgb(95,95,235)" fill-opacity="0.25"/><circle cx="72.6" cy="304.2" r="9.8" fill="rgb(95,95,235)" fill-opacity="0.25"/><circle cx="99.6" cy="349.9" r="9.8" fill="rgb(95,95,235)" fill-opacity="0.25"/><circle cx="112.6" cy="370.6" r="9.8" fill="rgb(95,95,235)" fill-opacity="0.25"/><circle cx="96" cy="389.2" r="9.8" fill="rgb(95,95,235)" fill-opacity="0.25"/><circle cx="72.9" cy="380.2" r="9.8" fill="rgb(95,95,235)" fill-opacity="0.25"/><circle cx="50.9" cy="389.4" r="9.8" fill="rgb(95,95,235)" fill-opacity="0.25"/><circle cx="30.7" cy="374.8" r="9.8" fill="rgb(95,95,235)" fill-opacity="0.25"/><circle cx="33" cy="349.5" r="9.8" fill="rgb(95,95,235)" fill-opacity="0.25"/><circle cx="55.7" cy="341" r="9.8" fill="rgb(95,95,235)" fill-opacity="0.25"/><circle cx="75.8" cy="354.5" r="9.8" fill="rgb(95,95,235)" fill-opacity="0.25"/><circle cx="48.6" cy="413.5" r="9.8" fill="rgb(95,95,235)" fill-opacity="0.25"/><circle cx="48.3" cy="300.9" r="9.8" fill="rgb(72,238,105)" fill-opacity="0.3"/><circle cx="126.4" cy="246.6" r="9.8" fill="rgb(72,238,105)" fill-opacity="0.3"/><circle cx="145" cy="230.8" r="9.8" fill="rgb(72,238,105)" fill-opacity="0.3"/><circle cx="142.9" cy="265.7" r="9.8" fill="rgb(72,238,105)" fill-opacity="0.3"/><circle cx="110.6" cy="228.6" r="9.8" fill="rgb(72,238,105)" fill-opacity="0.3"/><circle cx="488" cy="148.3" r="9.8" fill="rgb(205,238,38)" fill-opacity="0.3"/><circle cx="200" cy="618" r="9.8" fill="rgb(95,95,235)" fill-opacity="0.25"/><circle cx="221.32" cy="630.25" r="9.8" fill="rgb(95,95,235)" fill-opacity="0.25"/><circle cx="242.64" cy="618" r="9.8" fill="rgb(95,95,235)" fill-opacity="0.25"/><circle cx="242.64" cy="593.5" r="9.8" fill="rgb(95,95,235)" fill-opacity="0.25"/><circle cx="263.96" cy="630.25" r="9.8" fill="rgb(95,95,235)" fill-opacity="0.25"/><circle cx="285.28" cy="618" r="9.8" fill="rgb(95,95,235)" fill-opacity="0.25"/><circle cx="306.6" cy="630.25" r="9.8" fill="rgb(95,95,235)" fill-opacity="0.25"/><circle cx="327.92" cy="618" r="9.8" fill="rgb(95,95,235)" fill-opacity="0.25"/><circle cx="327.92" cy="593.5" r="9.8" fill="rgb(95,95,235)" fill-opacity="0.25"/><circle cx="349.24" cy="630.25" r="9.8" fill="rgb(95,95,235)" fill-opacity="0.25"/><circle cx="370.56" cy="618" r="9.8" fill="rgb(95,95,235)" fill-opacity="0.25"/><circle cx="391.88" cy="630.25" r="9.8" fill="rgb(95,95,235)" fill-opacity="0.25"/><circle cx="413.2" cy="618" r="9.8" fill="rgb(95,95,235)" fill-opacity="0.25"/><circle cx="434.52" cy="630.25" r="9.8" fill="rgb(95,95,235)" fill-opacity="0.25"/><circle cx="434.52" cy="654.75" r="9.8" fill="rgb(95,95,235)" fill-opacity="0.25"/><circle cx="455.84" cy="618" r="9.8" fill="rgb(95,95,235)" fill-opacity="0.25"/><circle cx="477.16" cy="630.25" r="9.8" fill="rgb(95,95,235)" fill-opacity="0.25"/><circle cx="498.48" cy="618" r="9.8" fill="rgb(95,95,235)" fill-opacity="0.25"/><circle cx="519.8" cy="630.25" r="9.8" fill="rgb(95,95,235)" fill-opacity="0.25"/><circle cx="541.12" cy="618" r="9.8" fill="rgb(95,95,235)" fill-opacity="0.25"/><circle cx="541.12" cy="593.5" r="9.8" fill="rgb(95,95,235)" fill-opacity="0.25"/><circle cx="562.44" cy="630.25" r="9.8" fill="rgb(95,95,235)" fill-opacity="0.25"/><circle cx="221.32" cy="655.4" r="9.8" fill="rgb(95,95,235)" fill-opacity="0.25"/><circle cx="196.8" cy="655.4" r="9.8" fill="rgb(95,95,235)" fill-opacity="0.25"/><circle cx="245.8" cy="655.4" r="9.8" fill="rgb(95,95,235)" fill-opacity="0.25"/><circle cx="221.32" cy="679.25" r="9.8" fill="rgb(95,95,235)" fill-opacity="0.25"/><circle cx="200.1" cy="691.6" r="9.8" fill="rgb(95,95,235)" fill-opacity="0.25"/><circle cx="200.1" cy="716.9" r="9.8" fill="rgb(95,95,235)" fill-opacity="0.25"/><circle cx="175.6" cy="716.9" r="9.8" fill="rgb(95,95,235)" fill-opacity="0.25"/><circle cx="224.8" cy="716.9" r="9.8" fill="rgb(95,95,235)" fill-opacity="0.25"/><circle cx="200.1" cy="741" r="9.8" fill="rgb(95,95,235)" fill-opacity="0.25"/><circle cx="178.8" cy="753.3" r="9.8" fill="rgb(95,95,235)" fill-opacity="0.25"/><circle cx="166.3" cy="732.6" r="9.8" fill="rgb(95,95,235)" fill-opacity="0.25"/><circle cx="191.6" cy="774.7" r="9.8" fill="rgb(95,95,235)" fill-opacity="0.25"/><circle cx="157.4" cy="765.9" r="9.8" fill="rgb(95,95,235)" fill-opacity="0.25"/><circle cx="157.4" cy="790.2" r="9.8" fill="rgb(95,95,235)" fill-opacity="0.25"/><circle cx="135.6" cy="802.5" r="9.8" fill="rgb(95,95,235)" fill-opacity="0.25"/><circle cx="133.7" cy="827.2" r="9.8" fill="rgb(95,95,235)" fill-opacity="0.25"/><circle cx="109.5" cy="831.6" r="9.8" fill="rgb(95,95,235)" fill-opacity="0.25"/><circle cx="97.5" cy="810.8" r="9.8" fill="rgb(95,95,235)" fill-opacity="0.25"/><circle cx="113.7" cy="792.5" r="9.8" fill="rgb(95,95,235)" fill-opacity="0.25"/><circle cx="108.7" cy="769" r="9.8" fill="rgb(95,95,235)" fill-opacity="0.25"/><circle cx="72.6" cy="809.2" r="9.8" fill="rgb(95,95,235)" fill-opacity="0.25"/><circle cx="99.6" cy="854.9" r="9.8" fill="rgb(95,95,235)" fill-opacity="0.25"/><circle cx="112.6" cy="875.6" r="9.8" fill="rgb(95,95,235)" fill-opacity="0.25"/><circle cx="96" cy="894.2" r="9.8" fill="rgb(95,95,235)" fill-opacity="0.25"/><circle cx="72.9" cy="885.2" r="9.8" fill="rgb(95,95,235)" fill-opacity="0.25"/><circle cx="50.9" cy="894.4" r="9.8" fill="rgb(95,95,235)" fill-opacity="0.25"/><circle cx="30.7" cy="879.8" r="9.8" fill="rgb(95,95,235)" fill-opacity="0.25"/><circle cx="33" cy="854.5" r="9.8" fill="rgb(95,95,235)" fill-opacity="0.25"/><circle cx="55.7" cy="846" r="9.8" fill="rgb(95,95,235)" fill-opacity="0.25"/><circle cx="75.8" cy="859.5" r="9.8" fill="rgb(95,95,235)" fill-opacity="0.25"/><circle cx="48.6" cy="918.5" r="9.8" fill="rgb(95,95,235)" fill-opacity="0.25"/><circle cx="108.6" cy="743.8" r="9.8" fill="rgb(205,238,38)" fill-opacity="0.3"/><circle cx="62.6" cy="786.4" r="9.8" fill="rgb(72,238,105)" fill-opacity="0.3"/><circle cx="52.5" cy="764.4" r="9.8" fill="rgb(72,238,105)" fill-opacity="0.3"/><circle cx="85.2" cy="776.8" r="9.8" fill="rgb(72,238,105)" fill-opacity="0.3"/><circle cx="40" cy="796" r="9.8" fill="rgb(72,238,105)" fill-opacity="0.3"/><circle cx="477.4" cy="655.1" r="9.8" fill="rgb(38,155,238)" fill-opacity="0.3"/><circle cx="646" cy="241" r="9.8" fill="rgb(38,155,238)" fill-opacity="0.3"/><circle cx="667.5" cy="254.5" r="9.8" fill="rgb(245,155,38)" fill-opacity="0.3"/><circle cx="743.8" cy="248" r="9.8" fill="rgb(5,232,205)" fill-opacity="0.3"/><circle cx="768" cy="248" r="9.8" fill="rgb(5,232,205)" fill-opacity="0.3"/><circle cx="645.1" cy="731.2" r="9.8" fill="rgb(245,155,38)" fill-opacity="0.3"/><circle cx="657.4" cy="752.5" r="9.8" fill="rgb(5,232,205)" fill-opacity="0.3"/><circle cx="681.9" cy="752.5" r="9.8" fill="rgb(5,232,205)" fill-opacity="0.3"/><circle cx="694.5" cy="773.5" r="9.8" fill="rgb(72,238,105)" fill-opacity="0.3"/></g>
<g font-family='"Liberation Sans", sans-serif' fill="#000" stroke="#000" stroke-width="0.12"><text transform="translate(200.32 104.34) scale(1 1)" font-size="9.7" letter-spacing="0.65" text-anchor="middle">2</text><text transform="translate(242.92 79.34) scale(1 1)" font-size="9.7" letter-spacing="0.65" text-anchor="middle">6</text><line x1="248.1" y1="83.3" x2="250.9" y2="83.3" stroke="#000" stroke-width="1.1"/><text transform="translate(246.12 116.34) scale(1 1)" font-size="9.7" letter-spacing="0.65" text-anchor="middle">5</text><text transform="translate(264.32 140.94) scale(1 1)" font-size="9.7" letter-spacing="0.65" text-anchor="middle">9</text><text transform="translate(285.52 110.84) scale(1 1)" font-size="9.7" letter-spacing="0.65" text-anchor="middle">11</text><text transform="translate(307.82 134.64) scale(1 1)" font-size="9.7" letter-spacing="0.65" text-anchor="middle">12</text><text transform="translate(321.82 116.34) scale(1 1)" font-size="9.7" letter-spacing="0.65" text-anchor="middle">15</text><text transform="translate(328.32 79.34) scale(1 1)" font-size="9.7" letter-spacing="0.65" text-anchor="middle">16</text><line x1="333.6" y1="83.3" x2="336.4" y2="83.3" stroke="#000" stroke-width="1.1"/><text transform="translate(349.42 140.94) scale(1 1)" font-size="9.7" letter-spacing="0.65" text-anchor="middle">17</text><text transform="translate(371.32 111.14) scale(1 1)" font-size="9.7" letter-spacing="0.65" text-anchor="middle">19</text><text transform="translate(392.32 134.84) scale(1 1)" font-size="9.7" letter-spacing="0.65" text-anchor="middle">24</text><text transform="translate(413.42 104.94) scale(1 1)" font-size="9.7" letter-spacing="0.65" text-anchor="middle">25</text><text transform="translate(434.92 123.64) scale(1 1)" font-size="9.7" letter-spacing="0.65" text-anchor="middle">26</text><text transform="translate(434.92 165.74) scale(1 1)" font-size="9.7" letter-spacing="0.65" text-anchor="middle">30</text><text transform="translate(456.32 111.14) scale(1 1)" font-size="9.7" letter-spacing="0.65" text-anchor="middle">33</text><text transform="translate(470.32 129.34) scale(1 1)" font-size="9.7" letter-spacing="0.65" text-anchor="middle">36</text><text transform="translate(498.62 111.14) scale(1 1)" font-size="9.7" letter-spacing="0.65" text-anchor="middle">37</text><text transform="translate(520.02 134.84) scale(1 1)" font-size="9.7" letter-spacing="0.65" text-anchor="middle">38</text><text transform="translate(535.32 116.84) scale(1 1)" font-size="9.7" letter-spacing="0.65" text-anchor="middle">41</text><text transform="translate(541.12 79.64) scale(1 1)" font-size="9.7" letter-spacing="0.65" text-anchor="middle">42</text><text transform="translate(573.12 129.34) scale(1 1)" font-size="9.7" letter-spacing="0.65" text-anchor="middle">43</text><line x1="568.1" y1="120.8" x2="570.9" y2="120.8" stroke="#000" stroke-width="1.1"/><text transform="translate(215.82 148.34) scale(1 1)" font-size="9.7" letter-spacing="0.65" text-anchor="middle">44</text><text transform="translate(227.92 177.74) scale(1 1)" font-size="9.7" letter-spacing="0.65" text-anchor="middle">50</text><text transform="translate(190.32 191.24) scale(1 1)" font-size="9.7" letter-spacing="0.65" text-anchor="middle">54</text><text transform="translate(190.32 202.74) scale(1 1)" font-size="9.7" letter-spacing="0.65" text-anchor="middle">55</text><text transform="translate(225.02 202.74) scale(1 1)" font-size="9.7" letter-spacing="0.65" text-anchor="middle">57</text><text transform="translate(165.52 214.64) scale(1 1)" font-size="9.7" letter-spacing="0.65" text-anchor="middle">56</text><text transform="translate(208.72 239.64) scale(1 1)" font-size="9.7" letter-spacing="0.65" text-anchor="middle">1</text><text transform="translate(172.52 251.84) scale(1 1)" font-size="9.7" letter-spacing="0.65" text-anchor="middle">3</text><text transform="translate(191.52 286.24) scale(1 1)" font-size="9.7" letter-spacing="0.65" text-anchor="middle">8</text><text transform="translate(164.62 288.94) scale(1 1)" font-size="9.7" letter-spacing="0.65" text-anchor="middle">13</text><text transform="translate(144.32 325.94) scale(1 1)" font-size="9.7" letter-spacing="0.65" text-anchor="middle">18</text><text transform="translate(55.92 332.34) scale(1 1)" font-size="9.7" letter-spacing="0.65" text-anchor="middle">32</text><text transform="translate(27.72 354.04) scale(1 1)" font-size="9.7" letter-spacing="0.65" text-anchor="middle">31</text><text transform="translate(20.82 377.84) scale(1 1)" font-size="9.7" letter-spacing="0.65" text-anchor="middle">29</text><text transform="translate(43.92 393.64) scale(1 1)" font-size="9.7" letter-spacing="0.65" text-anchor="middle">28</text><text transform="translate(73.52 388.84) scale(1 1)" font-size="9.7" letter-spacing="0.65" text-anchor="middle">27</text><text transform="translate(76.52 353.14) scale(1 1)" font-size="9.7" letter-spacing="0.65" text-anchor="middle">34</text><text transform="translate(99.22 341.34) scale(1 1)" font-size="9.7" letter-spacing="0.65" text-anchor="middle">21</text><text transform="translate(110.32 336.64) scale(1 1)" font-size="9.7" letter-spacing="0.65" text-anchor="middle">20</text><text transform="translate(119.12 374.84) scale(1 1)" font-size="9.7" letter-spacing="0.65" text-anchor="middle">22</text><text transform="translate(96.52 404.74) scale(1 1)" font-size="9.7" letter-spacing="0.65" text-anchor="middle">23</text><text transform="translate(48.52 429.94) scale(1 1)" font-size="9.7" letter-spacing="0.65" text-anchor="middle">35</text><text transform="translate(98.32 267.14) scale(1 1)" font-size="9.7" letter-spacing="0.65" text-anchor="middle">48</text><text transform="translate(197.32 142.14) scale(1 1)" font-size="9.7" letter-spacing="0.65" text-anchor="middle">46</text><text transform="translate(246.32 142.14) scale(1 1)" font-size="9.7" letter-spacing="0.65" text-anchor="middle">47</text><text transform="translate(219.82 129.64) scale(1 1)" font-size="9.7" letter-spacing="0.65" text-anchor="middle">4</text><text transform="translate(144.32 301.34) scale(1 1)" font-size="9.7" letter-spacing="0.65" text-anchor="middle">14</text><text transform="translate(108.52 291.64) scale(1 1)" font-size="9.7" letter-spacing="0.65" text-anchor="middle">45</text><text transform="translate(97.82 302.84) scale(1 1)" font-size="9.7" letter-spacing="0.65" text-anchor="middle">39</text><text transform="translate(73.32 295.34) scale(1 1)" font-size="9.7" letter-spacing="0.65" text-anchor="middle">40</text><text transform="translate(38.52 304.04) scale(1 1)" font-size="9.7" letter-spacing="0.65" text-anchor="middle">89</text><text transform="translate(110.92 219.54) scale(1 1)" font-size="9.7" letter-spacing="0.65" text-anchor="middle">53</text><line x1="116.1" y1="223.6" x2="118.9" y2="223.6" stroke="#000" stroke-width="1.1"/><text transform="translate(155.92 233.94) scale(1 1)" font-size="9.7" letter-spacing="0.65" text-anchor="middle">51</text><text transform="translate(127.42 263.54) scale(1 1)" font-size="9.7" letter-spacing="0.65" text-anchor="middle">49</text><text transform="translate(143.92 280.74) scale(1 1)" font-size="9.7" letter-spacing="0.65" text-anchor="middle">52</text><line x1="142.2" y1="257.7" x2="145" y2="257.7" stroke="#000" stroke-width="1.1"/><line x1="149.1" y1="259.1" x2="151.9" y2="259.1" stroke="#000" stroke-width="1.1"/><text transform="translate(488.32 163.14) scale(1 1)" font-size="9.7" letter-spacing="0.65" text-anchor="middle">82</text><line x1="167.4" y1="214.8" x2="166.2" y2="218.8" stroke-width="1"/><text transform="translate(200.32 609.34) scale(1 1)" font-size="9.7" letter-spacing="0.65" text-anchor="middle">2</text><text transform="translate(242.92 584.34) scale(1 1)" font-size="9.7" letter-spacing="0.65" text-anchor="middle">6</text><line x1="248.1" y1="588.3" x2="250.9" y2="588.3" stroke="#000" stroke-width="1.1"/><text transform="translate(246.12 621.34) scale(1 1)" font-size="9.7" letter-spacing="0.65" text-anchor="middle">5</text><text transform="translate(264.32 645.94) scale(1 1)" font-size="9.7" letter-spacing="0.65" text-anchor="middle">9</text><text transform="translate(285.52 615.84) scale(1 1)" font-size="9.7" letter-spacing="0.65" text-anchor="middle">11</text><text transform="translate(307.82 639.64) scale(1 1)" font-size="9.7" letter-spacing="0.65" text-anchor="middle">12</text><text transform="translate(321.82 621.34) scale(1 1)" font-size="9.7" letter-spacing="0.65" text-anchor="middle">15</text><text transform="translate(328.32 584.34) scale(1 1)" font-size="9.7" letter-spacing="0.65" text-anchor="middle">16</text><line x1="333.6" y1="588.3" x2="336.4" y2="588.3" stroke="#000" stroke-width="1.1"/><text transform="translate(349.42 645.94) scale(1 1)" font-size="9.7" letter-spacing="0.65" text-anchor="middle">17</text><text transform="translate(371.32 616.14) scale(1 1)" font-size="9.7" letter-spacing="0.65" text-anchor="middle">19</text><text transform="translate(392.32 639.84) scale(1 1)" font-size="9.7" letter-spacing="0.65" text-anchor="middle">24</text><text transform="translate(413.42 609.94) scale(1 1)" font-size="9.7" letter-spacing="0.65" text-anchor="middle">25</text><text transform="translate(434.92 628.64) scale(1 1)" font-size="9.7" letter-spacing="0.65" text-anchor="middle">26</text><text transform="translate(434.92 670.74) scale(1 1)" font-size="9.7" letter-spacing="0.65" text-anchor="middle">30</text><text transform="translate(456.32 616.14) scale(1 1)" font-size="9.7" letter-spacing="0.65" text-anchor="middle">33</text><text transform="translate(470.32 634.34) scale(1 1)" font-size="9.7" letter-spacing="0.65" text-anchor="middle">36</text><text transform="translate(498.62 616.14) scale(1 1)" font-size="9.7" letter-spacing="0.65" text-anchor="middle">37</text><text transform="translate(520.02 639.84) scale(1 1)" font-size="9.7" letter-spacing="0.65" text-anchor="middle">38</text><text transform="translate(535.32 621.84) scale(1 1)" font-size="9.7" letter-spacing="0.65" text-anchor="middle">41</text><text transform="translate(541.12 584.64) scale(1 1)" font-size="9.7" letter-spacing="0.65" text-anchor="middle">42</text><text transform="translate(573.12 634.34) scale(1 1)" font-size="9.7" letter-spacing="0.65" text-anchor="middle">43</text><line x1="568.1" y1="625.8" x2="570.9" y2="625.8" stroke="#000" stroke-width="1.1"/><text transform="translate(215.82 653.34) scale(1 1)" font-size="9.7" letter-spacing="0.65" text-anchor="middle">44</text><text transform="translate(227.92 682.74) scale(1 1)" font-size="9.7" letter-spacing="0.65" text-anchor="middle">50</text><text transform="translate(190.32 696.24) scale(1 1)" font-size="9.7" letter-spacing="0.65" text-anchor="middle">54</text><text transform="translate(190.32 707.74) scale(1 1)" font-size="9.7" letter-spacing="0.65" text-anchor="middle">55</text><text transform="translate(225.02 707.74) scale(1 1)" font-size="9.7" letter-spacing="0.65" text-anchor="middle">57</text><text transform="translate(165.52 719.64) scale(1 1)" font-size="9.7" letter-spacing="0.65" text-anchor="middle">56</text><text transform="translate(208.72 744.64) scale(1 1)" font-size="9.7" letter-spacing="0.65" text-anchor="middle">1</text><text transform="translate(172.52 756.84) scale(1 1)" font-size="9.7" letter-spacing="0.65" text-anchor="middle">3</text><text transform="translate(191.52 791.24) scale(1 1)" font-size="9.7" letter-spacing="0.65" text-anchor="middle">8</text><text transform="translate(164.62 793.94) scale(1 1)" font-size="9.7" letter-spacing="0.65" text-anchor="middle">13</text><text transform="translate(144.32 830.94) scale(1 1)" font-size="9.7" letter-spacing="0.65" text-anchor="middle">18</text><text transform="translate(55.92 837.34) scale(1 1)" font-size="9.7" letter-spacing="0.65" text-anchor="middle">32</text><text transform="translate(27.72 859.04) scale(1 1)" font-size="9.7" letter-spacing="0.65" text-anchor="middle">31</text><text transform="translate(20.82 882.84) scale(1 1)" font-size="9.7" letter-spacing="0.65" text-anchor="middle">29</text><text transform="translate(43.92 898.64) scale(1 1)" font-size="9.7" letter-spacing="0.65" text-anchor="middle">28</text><text transform="translate(73.52 893.84) scale(1 1)" font-size="9.7" letter-spacing="0.65" text-anchor="middle">27</text><text transform="translate(76.52 858.14) scale(1 1)" font-size="9.7" letter-spacing="0.65" text-anchor="middle">34</text><text transform="translate(99.22 846.34) scale(1 1)" font-size="9.7" letter-spacing="0.65" text-anchor="middle">21</text><text transform="translate(110.32 841.64) scale(1 1)" font-size="9.7" letter-spacing="0.65" text-anchor="middle">20</text><text transform="translate(119.12 879.84) scale(1 1)" font-size="9.7" letter-spacing="0.65" text-anchor="middle">22</text><text transform="translate(96.52 909.74) scale(1 1)" font-size="9.7" letter-spacing="0.65" text-anchor="middle">23</text><text transform="translate(48.52 934.94) scale(1 1)" font-size="9.7" letter-spacing="0.65" text-anchor="middle">35</text><text transform="translate(98.32 772.34) scale(1 1)" font-size="9.7" letter-spacing="0.65" text-anchor="middle">48</text><text transform="translate(197.32 647.14) scale(1 1)" font-size="9.7" letter-spacing="0.65" text-anchor="middle">47</text><text transform="translate(246.32 647.14) scale(1 1)" font-size="9.7" letter-spacing="0.65" text-anchor="middle">46</text><text transform="translate(222.32 628.34) scale(1 1)" font-size="9.7" letter-spacing="0.65" text-anchor="middle">4</text><text transform="translate(144.02 805.64) scale(1 1)" font-size="9.7" letter-spacing="0.65" text-anchor="middle">14</text><text transform="translate(107.82 796.04) scale(1 1)" font-size="9.7" letter-spacing="0.65" text-anchor="middle">45</text><text transform="translate(97.32 809.84) scale(1 1)" font-size="9.7" letter-spacing="0.65" text-anchor="middle">39</text><text transform="translate(73.32 824.14) scale(1 1)" font-size="9.7" letter-spacing="0.65" text-anchor="middle">40</text><text transform="translate(147.32 769.94) scale(1 1)" font-size="9.7" letter-spacing="0.65" text-anchor="middle">10</text><text transform="translate(108.92 735.54) scale(1 1)" font-size="9.7" letter-spacing="0.65" text-anchor="middle">82</text><text transform="translate(52.82 754.84) scale(1 1)" font-size="9.7" letter-spacing="0.65" text-anchor="middle">51</text><text transform="translate(85.52 767.74) scale(1 1)" font-size="9.7" letter-spacing="0.65" text-anchor="middle">52</text><text transform="translate(30.82 799.34) scale(1 1)" font-size="9.7" letter-spacing="0.65" text-anchor="middle">53</text><line x1="46.1" y1="790.8" x2="48.9" y2="790.8" stroke="#000" stroke-width="1.1"/><text transform="translate(62.92 802.14) scale(1 1)" font-size="9.7" letter-spacing="0.65" text-anchor="middle">49</text><text transform="translate(476.92 670.74) scale(1 1)" font-size="9.7" letter-spacing="0.65" text-anchor="middle">58</text><line x1="167.4" y1="719.8" x2="166.2" y2="723.8" stroke-width="1"/><text transform="translate(646.32 232.84) scale(1 1)" font-size="9.7" letter-spacing="0.65" text-anchor="middle">58</text><text transform="translate(681.82 257.84) scale(1 1)" font-size="9.7" letter-spacing="0.65" text-anchor="middle">101</text><text transform="translate(734.12 251.34) scale(1 1)" font-size="9.7" letter-spacing="0.65" text-anchor="middle">60</text><text transform="translate(779.12 251.34) scale(1 1)" font-size="9.7" letter-spacing="0.65" text-anchor="middle">59</text><text transform="translate(645.92 722.94) scale(1 1)" font-size="9.7" letter-spacing="0.65" text-anchor="middle">101</text><text transform="translate(658.22 768.14) scale(1 1)" font-size="9.7" letter-spacing="0.65" text-anchor="middle">60</text><text transform="translate(682.22 743.94) scale(1 1)" font-size="9.7" letter-spacing="0.65" text-anchor="middle">59</text><text transform="translate(694.42 789.94) scale(1 1)" font-size="9.7" letter-spacing="0.65" text-anchor="middle">89</text></g>
<g font-family='"Liberation Sans", sans-serif'><path d="M601.9 250h12M607.9 244v12" stroke="#000" stroke-width="2.1" fill="none"/><path d="M700.5 250h12M706.5 244v12" stroke="#000" stroke-width="2.1" fill="none"/><path d="M602 756h12M608 750v12" stroke="#000" stroke-width="2.1" fill="none"/><rect x="397.5" y="294" width="5.2" height="66" fill="#000"/><polygon points="391.5,359 408.7,359 400.1,368" fill="#000"/><text x="265.2" y="449.7" font-size="13.2" textLength="61.4" lengthAdjust="spacingAndGlyphs">adpcoa[x]</text><text x="637.2" y="289.5" font-size="13.2" textLength="38.2" lengthAdjust="spacingAndGlyphs">h2o[x]</text><text x="741" y="283" font-size="13.2" textLength="29.5" lengthAdjust="spacingAndGlyphs">o2[x]</text><text x="260.1" y="954.7" font-size="13.2" textLength="72.5" lengthAdjust="spacingAndGlyphs">3hadicoa[x]</text><text x="646" y="810.3" font-size="13.2" textLength="46.8" lengthAdjust="spacingAndGlyphs">h2o2[x]</text></g>
</svg></body></html>
